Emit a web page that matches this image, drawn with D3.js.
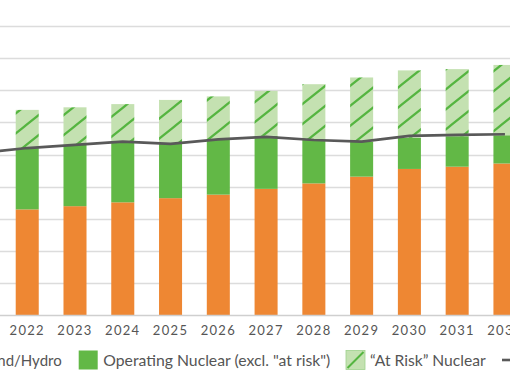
<!DOCTYPE html>
<html>
<head>
<meta charset="utf-8">
<script src="https://cdn.jsdelivr.net/npm/d3@7"></script>
<style>
  html, body { margin: 0; padding: 0; background: #fff; overflow: hidden; }
  svg { display: block; }
  text { font-family: Lato, "Open Sans", sans-serif; fill: #555; }
</style>
</head>
<body>
<svg id="chart" width="510" height="382"></svg>
<script>
// ---- data ----
const years = ["2021","2022","2023","2024","2025","2026","2027","2028","2029","2030","2031","2032"];
const tickYears = ["2022","2023","2024","2025","2026","2027","2028","2029","2030","2031","2032"];
const solarWindHydro   = [null, 32.9, 33.9, 35.1, 36.4, 37.5, 39.3, 41.0, 43.1, 45.5, 46.2, 47.2];
const operatingNuclear = [null, 19.1, 19.1, 18.6, 16.9, 17.2, 16.5, 13.7, 10.8,  9.7,  9.5,  8.8];
const atRiskNuclear    = [null, 11.9, 11.7, 12.0, 13.7, 13.4, 14.0, 17.2, 20.1, 21.0, 20.9, 21.9];
const lineValues       = [50.5, 52.0, 53.0, 54.0, 53.3, 54.7, 55.5, 54.5, 54.0, 55.8, 56.1, 56.3];
const yTicks = [10, 20, 30, 40, 50, 60, 70, 80, 90];
const seriesNames = ["Solar/Wind/Hydro", "Operating Nuclear (excl. \"at risk\")", "\u201CAt Risk\u201D Nuclear"];

// ---- style ----
const ORANGE = "#EE8733", GREEN = "#62B846", LIGHT = "#C4E1B1", HATCH = "#55B540", LINE = "#595959";

const svg = d3.select("#chart");

const x = d3.scaleBand().domain(years).range([-56.8, 541.2]).paddingInner(0.518).paddingOuter(0.518);
const y = d3.scaleLinear().domain([0, 90]).range([315, 26.1]);

// hatch pattern
const W = 25, H = 20;
const defs = svg.append("defs");
const pat = defs.append("pattern").attr("id", "hatch").attr("patternUnits", "userSpaceOnUse")
  .attr("width", W).attr("height", H).attr("x", 0).attr("y", 6);
pat.append("rect").attr("width", W).attr("height", H).attr("fill", LIGHT);
pat.append("path")
  .attr("d", `M${-W*0.2},${H*1.2} L${W*1.2},${-H*0.2} M${W-4},${H+3.2} L${W+4},${H-3.2} M-4,3.2 L4,-3.2`)
  .attr("stroke", HATCH).attr("stroke-width", 2.2).attr("fill", "none");

// gridlines
svg.append("g").selectAll("line").data(yTicks).join("line")
  .attr("x1", 0).attr("x2", 510)
  .attr("y1", d => Math.round(y(d)) + 0.5).attr("y2", d => Math.round(y(d)) + 0.5)
  .attr("stroke", "#dcdcdc").attr("stroke-width", 1.3);

// stacked bars
const rows = years.map((yr, i) => ({ yr, a: solarWindHydro[i], b: operatingNuclear[i], c: atRiskNuclear[i] }))
  .filter(d => d.a != null);
const stack = d3.stack().keys(["a", "b", "c"])(rows);
const fills = [ORANGE, GREEN, "url(#hatch)"];
stack.forEach((layer, k) => {
  svg.append("g").selectAll("rect").data(layer).join("rect")
    .attr("x", d => x(d.data.yr))
    .attr("width", x.bandwidth())
    .attr("y", d => y(d[1]))
    .attr("height", d => y(d[0]) - y(d[1]))
    .attr("fill", fills[k]);
});

// baseline axis
const xAxis = d3.axisBottom(x).tickValues(tickYears).tickSize(0).tickPadding(11);
const ax = svg.append("g").attr("transform", "translate(0,315)").call(xAxis);
ax.select(".domain").remove();
ax.selectAll("text").style("font-family", "Lato").style("font-size", "13px")
  .style("letter-spacing", "1.3px").attr("fill", "#555");
svg.append("line").attr("x1", 0).attr("x2", 510).attr("y1", 315.5).attr("y2", 315.5)
  .attr("stroke", "#cfcfcf").attr("stroke-width", 1.3);

// line
const line = d3.line().x((d, i) => x(years[i]) + x.bandwidth() / 2).y(d => y(d)).curve(d3.curveLinear);
svg.append("path").datum(lineValues).attr("d", line)
  .attr("fill", "none").attr("stroke", LINE).attr("stroke-width", 2.6).attr("stroke-linejoin", "round");

// legend
const lg = svg.append("g");
const ly = 350.5, ls = 19;
lg.append("text").attr("x", 61.7).attr("y", 365.5).attr("text-anchor", "end")
  .style("font-size", "15px").text(seriesNames[0]);
lg.append("rect").attr("x", 78.7).attr("y", ly).attr("width", ls).attr("height", ls).attr("fill", GREEN);
lg.append("text").attr("x", 103.3).attr("y", 365.5).style("font-size", "15px")
  .attr("textLength", 227).attr("lengthAdjust", "spacingAndGlyphs").text(seriesNames[1]);
lg.append("rect").attr("x", 346).attr("y", ly).attr("width", ls).attr("height", ls).attr("fill", LIGHT)
  .attr("stroke", "#9fd18c").attr("stroke-width", 0.8);
lg.append("line").attr("x1", 347.5).attr("y1", ly + ls - 1.5).attr("x2", 346 + ls - 1.5).attr("y2", ly + 1.5)
  .attr("stroke", HATCH).attr("stroke-width", 2);
lg.append("text").attr("x", 370).attr("y", 365.5).style("font-size", "15px")
  .attr("textLength", 115.7).attr("lengthAdjust", "spacingAndGlyphs").text(seriesNames[2]);
lg.append("line").attr("x1", 502).attr("x2", 520).attr("y1", 360).attr("y2", 360)
  .attr("stroke", LINE).attr("stroke-width", 2.6);
</script>
</body>
</html>
